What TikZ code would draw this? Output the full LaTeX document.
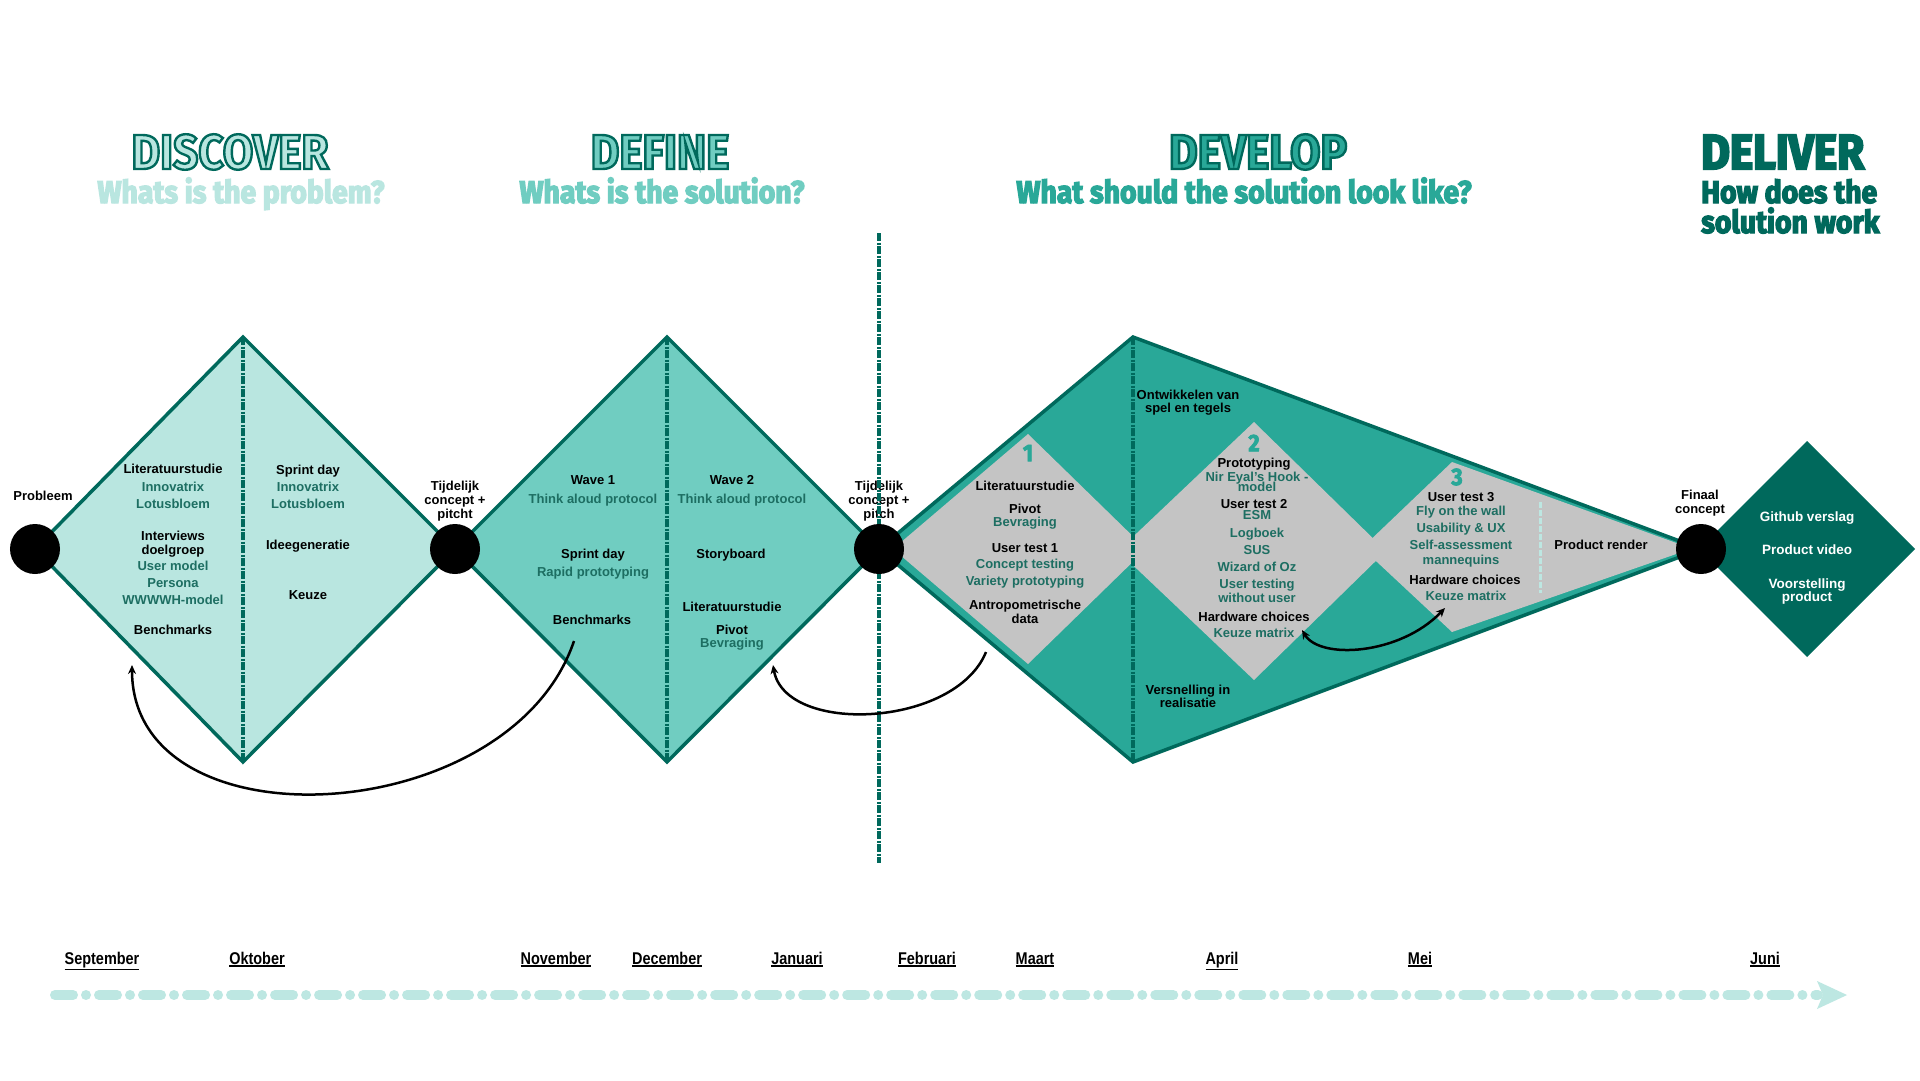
\documentclass[tikz,border=0pt]{standalone}
\usepackage{fontspec}
\setmainfont{Liberation Sans}
\newfontfamily\titlefont{Fira Sans}[FakeStretch=0.9]
\newfontfamily\narrowfont{Liberation Sans}[FakeStretch=0.85]
\usetikzlibrary{arrows.meta}
\definecolor{cDisc}{HTML}{B9E6E0}
\definecolor{cDef}{HTML}{70CDC1}
\definecolor{cDev}{HTML}{29A898}
\definecolor{cDel}{HTML}{00695C}
\definecolor{cBord}{HTML}{00695C}
\definecolor{cGrey}{HTML}{C4C4C4}
\definecolor{cSub}{HTML}{1D6E62}
\definecolor{cLine}{HTML}{BDE7E2}
\newcommand\outl[1]{\special{pdf:literal direct 2 Tr 2.4 w 0 0.412 0.361 RG}#1\special{pdf:literal direct 0 Tr}}
\newcommand\heavy[2]{\special{pdf:literal direct 2 Tr #1 w}#2\special{pdf:literal direct 0 Tr}}
\newcommand\mul[1]{\leavevmode\vtop{\hbox{#1}\kern1.2bp\hrule height 1.6bp}}
\tikzset{
  tx/.style={font=\bfseries\fontsize{13bp}{14bp}\selectfont, anchor=base, yshift=-4.5bp, inner sep=0pt},
  lbl/.style={font=\bfseries\fontsize{13bp}{14bp}\selectfont, align=center, inner sep=0pt},
  wt/.style={font=\bfseries\fontsize{13.5bp}{14bp}\selectfont, anchor=base, yshift=-4.5bp, inner sep=0pt, text=white},
  ttl/.style={font=\titlefont\bfseries\fontsize{49bp}{50bp}\selectfont, inner sep=0pt},
  sttl/.style={font=\titlefont\bfseries\fontsize{31.5bp}{32bp}\selectfont, inner sep=0pt, anchor=base},
  num/.style={font=\titlefont\bfseries\fontsize{24bp}{26bp}\selectfont, inner sep=0pt, text=cDev},
  month/.style={font=\narrowfont\bfseries\fontsize{17bp}{18bp}\selectfont, inner sep=0pt, anchor=base},
  shapeborder/.style={draw=cBord, line width=3.5bp, line join=miter},
  midline/.style={draw=cBord, line width=4bp, dash pattern=on 8bp off 1.5bp on 2bp off 1.5bp},
  dot/.style={circle, fill=black, minimum size=50bp, inner sep=0pt},
  loop/.style={draw=black, line width=2.5bp, -{Stealth[length=9bp,width=8bp]}},
}
\begin{document}
\begin{tikzpicture}[x=1bp,y=-1bp]
\fill[white] (0,0) rectangle (1920,1080);
\useasboundingbox (0,0) rectangle (1920,1080);

% ---------- main shapes ----------
\filldraw[shapeborder, fill=cDisc] (35,549) -- (243,337) -- (455,549) -- (243,762) -- cycle;
\filldraw[shapeborder, fill=cDef] (455,549) -- (667,337) -- (879,549) -- (667,762) -- cycle;
\filldraw[shapeborder, fill=cDev] (879,549) -- (1133,337) -- (1701,549) -- (1133,762) -- cycle;
\fill[cDel] (1699,549) -- (1807,441) -- (1915,549) -- (1807,657) -- cycle;

% grey inner diamonds
\fill[cGrey] (893,549) -- (1028,434) -- (1146,549) -- (1028,664) -- cycle;
\fill[cGrey] (1118,551) -- (1254,422) -- (1386,551) -- (1254,680) -- cycle;
\fill[cGrey] (1362,548) -- (1452,462) -- (1682,545) -- (1682,552) -- (1452,632) -- cycle;
\draw[cLine, line width=3bp, dash pattern=on 6bp off 2bp] (1540,502) -- (1540,593);

% dashed middle lines
\draw[midline] (243,337) -- (243,762);
\draw[midline] (667,337) -- (667,762);
\draw[midline] (1133,337) -- (1133,762);

% ---------- texts: discover ----------
\foreach \px/\py/\pc/\pt [count=\i] in {
 173/469/black/Literatuurstudie, 173/487/cSub/Innovatrix, 173/504/cSub/Lotusbloem,
 173/536/black/Interviews, 173/550/black/doelgroep, 173/566/cSub/User model,
 173/583/cSub/Persona, 173/600/cSub/WWWWH-model, 173/630/black/Benchmarks,
 308/470/black/Sprint day, 308/487/cSub/Innovatrix, 308/504/cSub/Lotusbloem,
 308/545/black/Ideegeneratie, 308/595/black/Keuze}
 {\node[tx, text=\pc] (dc\i) at (\px,\py) {\pt};}

% ---------- texts: define ----------
\foreach \px/\py/\pc/\pt [count=\i] in {
 593/480/black/Wave 1, 593/499/cSub/Think aloud protocol, 593/554/black/Sprint day,
 593/572/cSub/Rapid prototyping, 592/620/black/Benchmarks,
 732/480/black/Wave 2, 742/499/cSub/Think aloud protocol, 731/554/black/Storyboard,
 732/607/black/Literatuurstudie, 732/630/black/Pivot, 732/643/cSub/Bevraging}
 {\node[tx, text=\pc] (df\i) at (\px,\py) {\pt};}

% ---------- texts: develop ----------
\foreach \px/\py/\pc/\pt [count=\i] in {
 1188/395/black/Ontwikkelen van, 1188/408/black/spel en tegels,
 1188/690/black/Versnelling in, 1188/703/black/realisatie,
 1025/486/black/Literatuurstudie, 1025/509/black/Pivot, 1025/522/cSub/Bevraging,
 1025/548/black/User test 1, 1025/564/cSub/Concept testing, 1025/581/cSub/Variety prototyping,
 1025/605/black/Antropometrische, 1025/619/black/data,
 1254/463/black/Prototyping, 1257/477/cSub/Nir Eyal's Hook -, 1257/487/cSub/model,
 1254/504/black/User test 2, 1257/515/cSub/ESM, 1257/533/cSub/Logboek, 1257/550/cSub/SUS,
 1257/567/cSub/Wizard of Oz, 1257/584/cSub/User testing, 1257/598/cSub/without user,
 1254/617/black/Hardware choices, 1254/633/cSub/Keuze matrix,
 1461/497/black/User test 3, 1461/511/cSub/Fly on the wall, 1461/528/cSub/Usability \& UX,
 1461/545/cSub/Self-assessment, 1461/560/cSub/mannequins,
 1465/580/black/Hardware choices, 1466/596/cSub/Keuze matrix,
 1601/545/black/Product render}
 {\node[tx, text=\pc] (dv\i) at (\px,\py) {\pt};}

\node[num] (n1) at (1028,453) {\heavy{0.8}{1}};
\node[num] (n2) at (1254,443) {\heavy{0.8}{2}};
\node[num] (n3) at (1457,477) {\heavy{0.8}{3}};

% ---------- texts: deliver ----------
\node[wt] (dl1) at (1807,517) {Github verslag};
\node[wt] (dl2) at (1807,550) {Product video};
\node[wt] (dl3) at (1807,584) {Voorstelling};
\node[wt] (dl4) at (1807,597) {product};

% ---------- milestone labels ----------
\node[lbl] (lp) at (43,496) {Probleem};
\node[lbl] (lt1) at (455,501) {Tijdelijk\\concept +\\pitcht};
\node[lbl] (lt2) at (879,501) {Tijdelijk\\concept +\\pitch};
\node[lbl] (lf) at (1700,503) {Finaal\\concept};

% big vertical dashed line
\draw[midline] (879,233) -- (879,863);

% milestone dots
\node[dot] (c1) at (35,549) {};
\node[dot] (c2) at (455,549) {};
\node[dot] (c3) at (879,549) {};
\node[dot] (c4) at (1701,549) {};

% ---------- loop arrows ----------
\coordinate (a1s) at (574,641);
\coordinate (a1e) at (132,665);
\coordinate (a2s) at (986,652);
\coordinate (a2e) at (773,665);
\coordinate (a3s) at (1302,630);
\coordinate (a3e) at (1445,608);
\draw[loop] (a1s) .. controls (510,830) and (132,850) .. (a1e);
\draw[loop] (a2s) .. controls (955,728) and (785,735) .. (a2e);
\draw[loop, {Stealth[length=9bp,width=8bp]}-{Stealth[length=9bp,width=8bp]}] (a3s) .. controls (1320,660) and (1400,655) .. (a3e);

% ---------- titles ----------
\node[ttl, text=cDisc] (tdisc) at (230,152) {\outl{DISCOVER}};
\node[ttl, text=cDef] (tdef) at (660,152) {\outl{DEFINE}};
\node[ttl, text=cDev] (tdev) at (1258,152) {\outl{DEVELOP}};
\node[ttl, text=cDel, anchor=west] (tdel) at (1701,152) {\heavy{2.2}{DELIVER}};
\node[sttl, text=cDisc] (sdisc) at (241,203) {\heavy{1.3}{Whats is the problem?}};
\node[sttl, text=cDef] (sdef) at (662,203) {\heavy{1.3}{Whats is the solution?}};
\node[sttl, text=cDev] (sdev) at (1244,203) {\heavy{1.3}{What should the solution look like?}};
\node[sttl, text=cDel, anchor=base west] (sdel1) at (1701,203) {\heavy{1.3}{How does the}};
\node[sttl, text=cDel, anchor=base west] (sdel2) at (1701,233) {\heavy{1.3}{solution work}};

% ---------- timeline ----------
\coordinate (tls) at (55,995);
\coordinate (tle) at (1818,995);
\coordinate (tlt) at (1847,995);
\draw[cLine, line width=10bp, line cap=round, dash pattern=on 18bp off 13bp on 0.01bp off 13bp] (tls) -- (tle);
\fill[cLine] (1817,981) -- (tlt) -- (1817,1009) -- (1823,995) -- cycle;

\foreach \mx/\mt [count=\i] in {102/September, 257/Oktober, 556/November, 667/December,
  797/Januari, 927/Februari, 1035/Maart, 1222/April, 1420/Mei, 1765/Juni}
  {\node[month] (m\i) at (\mx,964) {\mul{\mt}};}
\end{tikzpicture}
\end{document}
